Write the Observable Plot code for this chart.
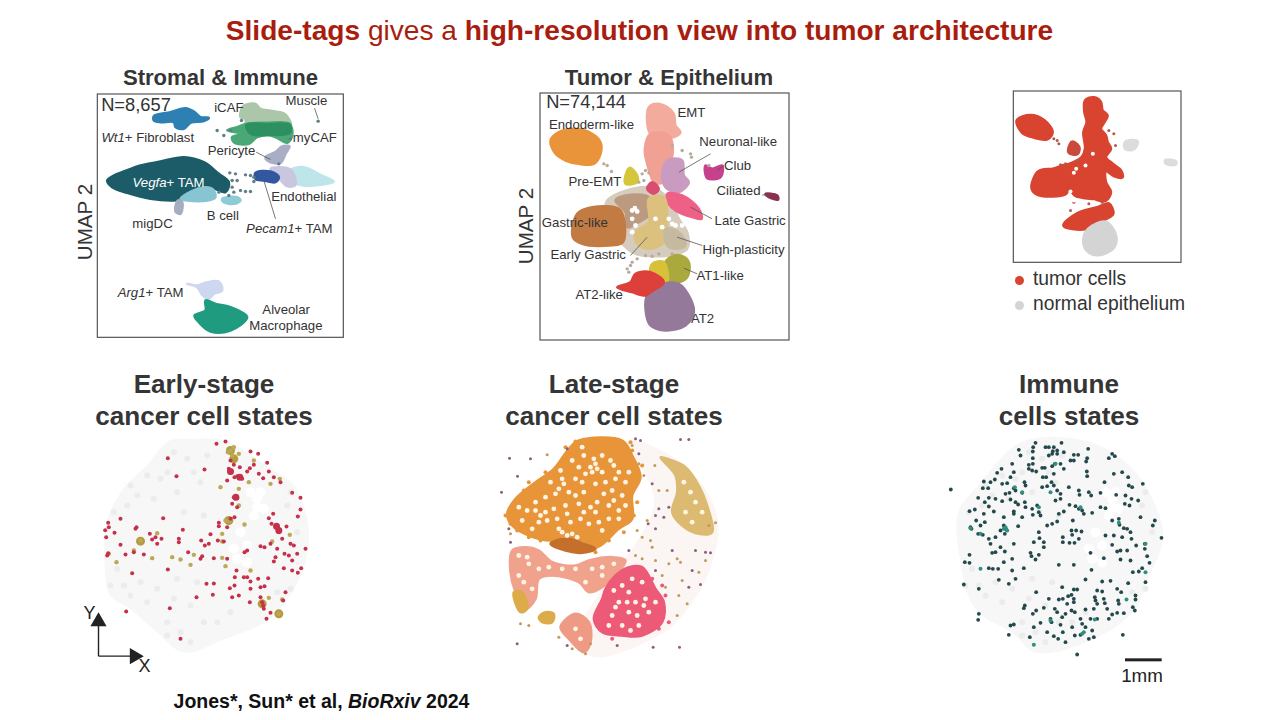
<!DOCTYPE html>
<html><head><meta charset="utf-8">
<script src="https://cdn.jsdelivr.net/npm/d3@7"></script>
<script src="https://cdn.jsdelivr.net/npm/@observablehq/plot@0.6"></script>
<style>
html,body{margin:0;padding:0;background:#fff;width:1280px;height:720px;overflow:hidden;font-family:"Liberation Sans",Arial,sans-serif;}
#page{position:relative;width:1280px;height:720px;}
.h{position:absolute;text-align:center;font-weight:bold;color:#353535;white-space:nowrap;transform:translateX(-50%);}
.p{position:absolute;}
.p svg{display:block;overflow:visible;background:transparent;}
</style></head><body><div id="page">
<div class="h" style="left:639.5px;top:14px;font-size:28.1px;line-height:34px;font-weight:normal;color:#a81d0e"><b>Slide-tags</b> gives a <b>high-resolution view into tumor architecture</b></div>
<div class="h" style="left:220.5px;top:66px;font-size:22.1px;line-height:24px">Stromal &amp; Immune</div>
<div class="h" style="left:669px;top:66px;font-size:22.1px;line-height:24px">Tumor &amp; Epithelium</div>
<div class="h" style="left:204px;top:369px;font-size:26.1px;line-height:31.6px">Early-stage<br>cancer cell states</div>
<div class="h" style="left:614px;top:369px;font-size:26.1px;line-height:31.6px">Late-stage<br>cancer cell states</div>
<div class="h" style="left:1069px;top:369px;font-size:26.1px;line-height:31.6px">Immune<br>cells states</div>
<div class="h" style="left:85px;top:222px;font-size:20.6px;line-height:24px;font-weight:normal;transform:translate(-50%,-50%) rotate(-90deg)">UMAP 2</div>
<div class="h" style="left:526px;top:226px;font-size:20.6px;line-height:24px;font-weight:normal;transform:translate(-50%,-50%) rotate(-90deg)">UMAP 2</div>
<div class="h" style="left:321.5px;top:690px;font-size:19.5px;line-height:22px;color:#111">Jones*, Sun* et al, <i>BioRxiv</i> 2024</div>
<div class="h" style="left:1142px;top:665px;font-size:18.8px;line-height:22px;font-weight:normal;color:#222">1mm</div>
<div id="legend" style="position:absolute;left:1013px;top:266px;font-size:19.3px;color:#333;line-height:25px"></div>
</div>
<script>
// ---------- Stromal & Immune UMAP outlines
const wt1Fibroblast=[[190,92],[240,80],[285,68],[310,78],[330,95],[355,97],[340,107],[300,112],[280,130],[255,125],[250,110],[210,110],[190,105]];
const iCAF=[[458,62],[478,55],[495,55],[510,70],[540,76],[582,85],[600,118],[530,125],[468,122],[464,100],[450,95]];
const myCAF=[[470,115],[530,112],[597,115],[605,150],[590,172],[565,160],[540,150],[500,155],[475,175],[430,170],[425,155],[460,145],[410,135],[440,125]];
const myCAFdark=[[468,118],[530,116],[598,118],[598,142],[535,148],[480,145]];
const pericyte=[[575,183],[597,183],[585,205],[570,232],[535,228],[525,215],[555,200]];
const vegfaTAM=[[50,285],[70,270],[100,258],[150,240],[210,228],[280,215],[340,230],[385,265],[415,290],[405,320],[365,308],[330,320],[300,338],[250,345],[180,340],[110,322],[65,305]];
const bCell=[[270,340],[320,310],[365,310],[375,335],[350,345],[290,345]];
const bCell2=[[395,340],[440,335],[450,345],[430,355],[400,350]];
const migDC=[[262,345],[275,350],[270,385],[255,378]];
const endothelial=[[600,255],[640,245],[690,268],[730,288],[690,298],[640,300],[610,290]];
const endothelialEdge=[[540,250],[600,252],[615,298],[590,302],[560,270]];
const pecam1TAM=[[495,262],[540,258],[565,275],[555,290],[520,285],[495,280]];
const arg1TAM=[[290,595],[320,600],[345,592],[385,588],[395,615],[370,625],[355,640],[335,628],[320,605]];
const alveolar=[[345,645],[375,655],[420,665],[470,695],[420,735],[360,738],[325,710],[312,690],[345,675]];
const stromalStrays=[[683,107],[453,105],[380,135],[420,135],[400,150],[600,160],[565,235],[418,262],[435,265],[465,268],[480,270],[425,285],[440,285],[425,305],[430,320],[450,315],[465,318],[480,318],[490,275],[490,288],[415,330],[385,320]];
// ---------- Tumor & Epithelium UMAP outlines
const endodermLike=[[45,165],[70,140],[120,130],[170,145],[195,170],[195,205],[175,235],[130,235],[90,225],[60,205]];
const preEMT=[[283,247],[305,270],[305,290],[270,295],[270,270]];
const emt=[[340,65],[365,55],[395,65],[415,85],[420,120],[435,140],[415,155],[385,155],[345,145],[335,110]];
const emt2=[[345,145],[400,150],[412,200],[402,235],[392,285],[358,292],[335,235],[328,190]];
const neuronalLike=[[395,225],[440,225],[445,270],[460,290],[430,320],[395,310],[380,280]];
const redPink=[[350,290],[370,310],[355,325],[335,310]];
const lateGastric=[[395,325],[440,330],[490,370],[498,400],[470,395],[420,375],[400,355]];
const club=[[510,240],[530,250],[560,240],[555,275],[515,278]];
const ciliated=[[690,325],[725,330],[728,342],[700,335]];
const tumorHalo=[[215,345],[340,305],[400,340],[430,400],[455,440],[455,490],[400,510],[300,505],[265,480],[215,400]];
const gastricLike=[[125,385],[170,365],[250,370],[265,400],[262,470],[220,480],[140,475],[112,455]];
const gastricMid=[[240,345],[270,330],[340,335],[350,380],[310,410],[275,425],[270,380]];
const earlyGastric=[[340,340],[385,335],[395,400],[385,470],[340,490],[305,475],[300,440],[340,410]];
const highPlasticity=[[390,430],[430,440],[450,480],[420,490],[395,480]];
const at1Like=[[405,515],[435,510],[460,530],[455,575],[425,590],[390,580],[385,540]];
const at1Yellow=[[350,535],[385,530],[395,590],[370,585],[345,565]];
const at2Like=[[300,565],[345,560],[385,590],[345,620],[330,630],[290,620],[245,605],[285,590]];
const at2=[[385,595],[430,595],[465,640],[475,680],[450,720],[390,735],[345,720],[330,670],[335,630]];
const tumorStrays=[[205,235],[215,240],[228,258],[320,265],[330,255],[340,262],[325,285],[310,290],[410,180],[440,195],[465,205],[468,215],[520,240],[285,540],[280,560],[305,520],[330,510],[350,512],[370,505],[410,505],[290,530],[275,550]];
const tumorHoles=[[298,368],[305,378],[290,375],[360,400],[300,420],[290,440],[400,400],[410,415],[420,420],[290,400],[380,425],[440,420]];
// ---------- tumor / normal UMAP outlines
const tumorA=[[35,105],[75,90],[115,105],[140,140],[125,160],[85,155],[50,140]];
const tumorCentral=[[240,45],[265,37],[285,50],[290,75],[305,90],[295,110],[285,130],[300,150],[305,170],[315,190],[300,215],[320,235],[345,255],[350,275],[325,270],[300,255],[300,290],[315,320],[300,345],[265,340],[230,335],[210,330],[190,310],[180,325],[100,328],[80,310],[85,280],[100,258],[145,250],[175,240],[195,235],[230,215],[240,190],[235,140],[245,110],[238,80]];
const tumorTriangle=[[200,170],[220,185],[215,205],[190,200]];
const tumorLow=[[310,355],[322,385],[300,400],[240,430],[175,420],[215,385],[280,365]];
const normalMain=[[250,430],[300,410],[330,450],[325,485],[280,508],[245,495],[235,460]];
const normalBit1=[[360,170],[395,168],[385,190],[360,190]];
const normalBit2=[[480,225],[510,228],[510,236],[482,234]];
const tumorGaps=[[212,250],[205,262],[262,205],[240,240],[195,318],[265,350],[205,345],[225,360],[150,235]];
const tumorFringe=[[145,160],[155,165],[160,175],[325,145],[330,180],[310,135],[205,350],[195,375],[250,355],[290,350],[180,235],[215,225],[165,238]];
// ---------- Early-stage spots
const earlyRed=[[405,18],[378,25],[480,48],[503,55],[530,82],[505,115],[518,128],[490,88],[478,98],[470,108],[448,95],[420,75],[430,88],[415,100],[420,112],[440,122],[455,130],[410,135],[432,125],[430,185],[440,188],[425,205],[440,215],[420,250],[432,245],[385,262],[385,272],[410,275],[360,296],[382,315],[400,318],[343,330],[332,315],[355,325],[265,310],[265,320],[293,350],[335,362],[330,370],[370,368],[410,370],[462,350],[470,345],[277,283],[218,248],[258,122],[232,68],[342,102],[138,275],[135,280],[90,250],[53,262],[55,275],[44,284],[72,292],[47,305],[90,328],[105,357],[50,360],[53,353],[130,350],[160,357],[178,295],[185,312],[195,305],[213,310],[200,325],[232,402],[125,413],[348,445],[370,444],[367,478],[318,485],[238,518],[107,528],[270,610],[433,425],[438,405],[460,425],[470,425],[480,438],[503,430],[480,460],[445,480],[425,485],[418,458],[432,450],[510,455],[522,452],[478,500],[510,485],[515,500],[518,510],[520,520],[540,532],[528,550],[533,428],[580,398],[605,405],[632,398],[622,412],[585,470],[578,495],[548,235],[535,248],[622,243],[630,222],[630,187],[605,172],[570,140],[550,125],[535,108],[543,265],[560,275],[565,290],[575,310],[588,273],[600,325],[610,330],[645,340],[620,355],[595,360],[605,375],[582,355],[560,340],[555,365],[550,378],[510,332],[522,335],[540,325]];
const earlyOlive=[[420,45],[430,35],[425,60],[445,55],[490,75],[475,140],[540,145],[568,130],[445,160],[445,210],[405,255],[395,295],[395,318],[150,315],[200,293],[55,355],[270,372],[405,392],[480,405],[535,487],[565,535],[575,492],[545,318],[598,298],[390,155],[462,267],[395,367],[310,358],[185,368],[245,365],[300,388],[78,380],[130,345],[412,50],[418,255]];
const earlyClump=[[420,45],[430,70],[415,255],[150,317],[515,505],[565,535]];
const earlyRedClump=[[436,185],[565,285],[420,108],[448,125],[558,272]];
// ---------- Late-stage regions and spots
const tissueLate=[[400,20],[500,50],[610,140],[665,260],[640,400],[580,510],[500,590],[290,660],[250,600],[480,200]];
const orangeState=[[35,235],[60,190],[120,140],[175,100],[220,40],[250,15],[380,15],[410,60],[435,125],[410,180],[410,250],[370,280],[305,335],[270,320],[210,300],[170,315],[100,300],[50,270]];
const brownState=[[165,325],[215,308],[265,325],[300,340],[260,352],[210,345]];
const salmonState=[[50,345],[90,335],[130,345],[170,380],[240,390],[280,375],[350,365],[390,375],[360,420],[320,455],[280,470],[250,440],[170,420],[130,430],[120,490],[90,520],[60,470],[45,410]];
const pinkState=[[360,420],[400,395],[440,395],[480,460],[505,500],[500,560],[440,600],[380,600],[320,590],[295,550],[320,490],[330,460]];
const salmonLow=[[195,575],[240,535],[280,560],[285,620],[265,650],[220,610]];
const tanState=[[495,65],[530,75],[570,95],[610,150],[635,210],[650,290],[610,295],[560,270],[530,230],[545,170],[540,120]];
const goldA=[[130,545],[150,530],[175,535],[170,560],[140,560]];
const goldB=[[55,470],[80,470],[95,520],[75,530]];
const lateCream=[[300,85],[285,95],[305,100],[240,130],[260,140],[190,160],[165,140],[200,130],[330,140],[360,130],[390,140],[350,165],[325,175],[305,200],[285,215],[340,210],[370,225],[215,235],[210,210],[175,220],[120,200],[95,225],[155,255],[130,260],[80,255],[110,280],[280,265],[255,250],[310,260],[340,250],[215,300],[230,295],[245,305],[200,290],[265,170],[240,180],[220,170],[150,185],[380,180],[390,210],[345,75],[260,35],[265,60],[230,75],[195,105],[355,90],[400,110],[150,230],[250,205],[300,145],[290,110],[295,70],[320,60],[180,175],[205,145],[120,225],[70,215],[185,250],[225,260],[355,195],[370,110],[320,110],[250,95],[270,115],[300,230],[320,285],[265,230],[190,280],[135,240],[370,250],[380,450],[400,470],[370,500],[420,500],[450,490],[460,530],[400,530],[350,540],[430,570],[380,570],[340,570],[480,500],[410,430],[440,440],[360,515],[395,500],[425,540],[355,465],[445,510],[405,585],[70,360],[100,385],[130,400],[85,440],[110,460],[200,400],[240,400],[290,400],[320,420],[270,440],[160,395],[70,420],[95,365],[355,385],[320,395],[585,170],[600,200],[570,230],[590,260],[565,140],[620,230],[240,580],[255,610]];
const lateOrangeEdge=[[30,240],[45,265],[65,285],[100,305],[135,315],[100,140],[85,165],[150,110],[210,35],[240,18],[410,45],[440,90],[425,200],[415,240],[385,290],[340,315],[300,350],[405,20]];
const latePinkEdge=[[510,480],[520,560],[490,580],[350,610],[305,570],[500,450],[470,430]];
const lateMauve=[[42,68],[105,70],[66,122],[18,170],[215,40],[555,12],[580,12],[65,625],[215,630],[365,630],[473,635],[552,635],[40,280],[45,320],[430,55],[470,145],[490,220],[505,245],[480,240],[458,265],[480,280],[400,345],[480,405],[530,345],[590,405],[600,345],[630,350],[645,352],[615,447],[580,455],[520,215],[420,10],[435,15]];
const lateTan=[[155,58],[478,90],[285,625],[45,295],[410,30],[430,85],[445,120],[490,165],[515,165],[455,255],[425,285],[440,305],[465,315],[420,360],[440,370],[500,420],[545,370],[520,385],[555,380],[630,375],[610,410],[560,435],[510,455],[550,480],[575,505],[545,540],[470,335],[480,375],[660,262],[640,270],[100,570],[75,565],[190,605],[230,640],[270,655]];
// ---------- Immune spots
const immuneDark=[[270,22],[348,22],[263,35],[262,48],[300,35],[310,35],[325,35],[428,40],[220,43],[322,47],[335,45],[335,55],[355,50],[225,60],[262,68],[310,60],[320,55],[385,58],[398,58],[425,68],[490,68],[500,55],[508,62],[200,85],[250,88],[262,85],[328,85],[345,85],[375,75],[385,75],[422,78],[260,105],[272,108],[290,97],[298,97],[320,92],[325,115],[355,100],[250,100],[168,100],[155,112],[205,110],[195,125],[424,108],[425,122],[505,115],[530,110],[115,138],[135,140],[148,132],[170,145],[185,143],[237,140],[240,150],[292,125],[302,125],[318,140],[325,150],[305,152],[290,155],[370,155],[477,140],[548,125],[592,145],[550,150],[560,155],[112,158],[128,158],[205,158],[210,165],[230,172],[192,172],[180,175],[335,165],[345,175],[400,165],[402,178],[430,170],[437,180],[465,172],[512,178],[540,180],[558,190],[578,195],[98,187],[130,187],[150,190],[170,197],[195,192],[210,200],[218,207],[238,200],[240,215],[275,210],[330,195],[345,190],[372,208],[390,212],[400,220],[410,225],[415,235],[440,232],[465,215],[480,218],[538,205],[552,210],[130,213],[118,200],[145,228],[88,222],[72,227],[175,245],[205,228],[205,235],[230,245],[260,220],[262,238],[280,230],[285,240],[355,228],[340,235],[382,255],[115,235],[118,260],[92,255],[105,270],[75,275],[78,280],[175,270],[182,282],[165,285],[218,272],[305,270],[320,265],[335,258],[500,255],[520,250],[522,268],[535,278],[545,280],[585,245],[628,255],[622,270],[505,300],[480,300],[98,295],[112,298],[130,310],[150,305],[178,295],[280,290],[282,308],[378,285],[392,285],[408,288],[380,298],[352,305],[400,310],[352,320],[372,322],[387,322],[205,325],[265,320],[295,320],[295,335],[530,305],[555,290],[558,310],[135,325],[165,335],[140,352],[150,350],[178,348],[500,328],[572,330],[598,325],[598,340],[605,362],[515,348],[525,345],[545,345],[255,352],[258,362],[270,372],[280,358],[72,358],[58,380],[72,382],[475,368],[525,372],[555,375],[612,382],[175,380],[200,370],[435,352],[130,398],[142,400],[158,400],[235,398],[200,405],[340,388],[385,388],[438,403],[562,410],[580,408],[590,398],[160,433],[210,430],[190,445],[55,447],[100,460],[420,432],[470,438],[495,436],[548,443],[600,440],[272,470],[350,455],[385,462],[395,462],[378,478],[455,465],[470,468],[515,460],[527,470],[570,480],[570,492],[368,482],[352,490],[340,492],[310,490],[385,490],[385,500],[365,505],[448,485],[450,495],[455,505],[475,490],[478,503],[518,495],[520,505],[562,515],[568,525],[238,510],[235,518],[295,517],[272,525],[262,535],[328,520],[335,530],[360,535],[378,525],[388,530],[420,522],[445,520],[485,520],[515,532],[500,537],[490,550],[535,533],[100,535],[98,553],[315,550],[318,560],[350,545],[405,550],[435,550],[455,550],[410,565],[285,562],[205,567],[195,570],[265,575],[345,568],[380,575],[420,575],[190,598],[253,605],[305,590],[325,602],[338,610],[352,590],[388,600],[405,598],[440,585],[445,605],[430,610],[532,598],[360,620],[395,657],[16,162],[648,307]];
const immuneTeal=[[175,280],[180,275],[185,285],[75,278],[105,400],[265,628],[410,595],[415,590],[543,492],[600,325],[600,410],[330,85],[208,155],[280,215],[520,262],[405,215],[230,170],[315,170],[105,295],[448,552],[315,555]];
// ---------- shared tissue outlines and faint cell traces
const tissueEarly=[[235,18],[300,12],[400,15],[450,40],[540,100],[610,150],[650,260],[650,350],[625,430],[575,510],[520,560],[400,610],[280,650],[200,590],[120,520],[60,480],[45,400],[50,260],[100,160],[170,90]];
const tissueImmune=[[230,20],[430,20],[560,100],[640,240],[650,320],[610,420],[560,530],[420,620],[270,650],[200,590],[90,520],[45,370],[40,230],[100,150]];
const tissueGaps=[[500,190],[480,170],[520,220],[490,240],[470,330],[450,290],[430,340],[510,170],[500,215],[440,370],[470,380]];
const tissueTraces=[[120,150],[170,120],[230,110],[290,70],[350,60],[330,140],[260,170],[190,190],[110,210],[70,230],[280,230],[340,240],[150,440],[100,450],[80,400],[200,460],[260,430],[300,510],[340,560],[270,590],[230,560],[380,560],[170,500],[590,210],[620,290],[600,460],[560,470],[420,530],[140,180],[210,130],[310,110],[250,50],[60,450],[120,480],[320,440],[250,490],[300,620],[230,600],[600,170]];
// ---------- labels
const stromalLabels=[["iCAF",415,68],["Muscle",648,47],["myCAF",673,157],["Pericyte",423,197],["Endothelial",640,333],["B cell",397,390],["migDC",186,416],["Alveolar",587,673],["Macrophage",586,722]];
const stromalItalic=[["Wt1",103,157,"#333"],["Vegfa",228,293,"#fff"],["Pecam1",612,430,"#333"],["Arg1",165,622,"#333"]];
const stromalPlus=[["+ Fibroblast",103,157,"#333"],["+ TAM",228,293,"#fff"],["+ TAM",612,430,"#333"],["+ TAM",165,622,"#333"]];
const tumorLabels=[["EMT",468,82],["Endoderm-like",168,117],["Neuronal-like",608,168],["Club",606,241],["Pre-EMT",178,288],["Ciliated",609,315],["Gastric-like",118,412],["Late Gastric",644,405],["High-plasticity",624,493],["Early Gastric",158,507],["AT1-like",554,571],["AT2-like",191,628],["AT2",501,700]];
const stromalLeaders=[[672,68,683,100],[497,200,540,222],[520,285,555,400]];
const tumorLeaders=[[430,260,525,205],[465,365,530,400],[425,455,500,480],[335,455,285,510],[545,255,565,240],[445,548,485,565],[680,328,700,330]];

const pts=a=>a.map(([x,y])=>({x,y}));
const regions=list=>list.flatMap(([name,poly])=>poly.map(([x,y])=>({name,x,y})));
const labelRows=a=>a.map(([t,x,y,c])=>({t,x,y,c}));
const linkRows=a=>a.map(([x1,y1,x2,y2])=>({x1,y1,x2,y2}));
const FONT='"Liberation Sans",Arial,sans-serif';

function panel(left,top,xd,yd,marks,color){
  const fig=Plot.plot({width:(xd[1]-xd[0])/3,height:(yd[1]-yd[0])/3,
    margin:0,marginTop:0,marginRight:0,marginBottom:0,marginLeft:0,
    x:{domain:xd,axis:null},y:{domain:[yd[1],yd[0]],axis:null},
    color:color,style:{background:"transparent",fontFamily:FONT,overflow:"visible"},marks});
  const d=document.createElement("div");d.className="p";d.style.left=left+"px";d.style.top=top+"px";
  d.appendChild(fig);document.getElementById("page").appendChild(d);
}
const blobs=(list,strokeWidth=2.5)=>Plot.line(regions(list),{x:"x",y:"y",z:"name",fill:"name",stroke:"name",strokeWidth,strokeLinejoin:"round",curve:"catmull-rom-closed"});
const colorOf=list=>({domain:list.map(d=>d[0]),range:list.map(d=>d[2])});
const frame=(x1,x2,y1,y2,c="#555")=>Plot.rect([{x1,x2,y1,y2}],{x1:"x1",x2:"x2",y1:"y1",y2:"y2",fill:"none",stroke:c,strokeWidth:1.2});
const txt=(rows,o={})=>Plot.text(labelRows(rows),{x:"x",y:"y",text:"t",fontSize:13.2,fill:"#333",...o});
const leaders=rows=>Plot.link(linkRows(rows),{x1:"x1",y1:"y1",x2:"x2",y2:"y2",stroke:"#555",strokeWidth:0.8});
const spots=(a,fill,r,o={})=>Plot.dot(pts(a),{x:"x",y:"y",r,fill,stroke:"none",...o});

// --- Stromal & Immune
const stromalRegions=[["Wt1",wt1Fibroblast,"#2e7fb2"],["iCAF",iCAF,"#abc6a8"],["myCAF",myCAF,"#4aa877"],["myCAFd",myCAFdark,"#2c9060"],["Pericyte",pericyte,"#a9aec6"],["Vegfa",vegfaTAM,"#1c5c68"],["Bcell",bCell,"#88c5d3"],["Bcell2",bCell2,"#8fcbd6"],["migDC",migDC,"#a4aec0"],["Endo",endothelial,"#bde5ea"],["EndoE",endothelialEdge,"#c9c6e0"],["Pecam",pecam1TAM,"#33579f"],["Arg1",arg1TAM,"#cdd7ef"],["Alveolar",alveolar,"#1f9b80"]];
panel(90,85,[0,780],[0,780],[
  blobs(stromalRegions),
  spots(stromalStrays,"#5f7f86",1.7),
  leaders(stromalLeaders),
  frame(22,760,27,757),
  txt(stromalLabels),
  txt(stromalItalic,{textAnchor:"end",fontStyle:"italic",fill:"c"}),
  txt(stromalPlus,{textAnchor:"start",fill:"c"}),
  Plot.text([{t:"N=8,657",x:32,y:58}],{x:"x",y:"y",text:"t",fontSize:18.3,textAnchor:"start",fill:"#333"})
],colorOf(stromalRegions));

// --- Tumor & Epithelium
const tumorRegions=[["Halo",tumorHalo,"#d6ccbe"],["Endoderm",endodermLike,"#e9933b"],["PreEMT",preEMT,"#d5c63a"],["EMT",emt,"#f3ab9e"],["EMT2",emt2,"#f1a094"],["Neuronal",neuronalLike,"#c99bc1"],["RedPink",redPink,"#da4d70"],["LateG",lateGastric,"#ee6086"],["Club",club,"#c7408c"],["Ciliated",ciliated,"#8b3050"],["GastricMid",gastricMid,"#bb9a80"],["Gastric",gastricLike,"#c27b43"],["Early",earlyGastric,"#dcc17e"],["High",highPlasticity,"#c5ba9f"],["AT1",at1Like,"#a9a93d"],["AT1y",at1Yellow,"#d9c039"],["AT2",at2,"#95799b"],["AT2L",at2Like,"#dd3f3b"]];
panel(535,85,[0,780],[0,780],[
  blobs(tumorRegions),
  spots(tumorStrays,"#b9ab9c",1.7),
  spots(tumorHoles,"#ffffff",2.4),
  leaders(tumorLeaders),
  frame(15,762,24,765),
  txt(tumorLabels),
  Plot.text([{t:"N=74,144",x:32,y:50}],{x:"x",y:"y",text:"t",fontSize:18.3,textAnchor:"start",fill:"#333"})
],colorOf(tumorRegions));

// --- tumor / normal
const stateRegions=[["a",tumorA,"#d8442f"],["b",tumorCentral,"#d8442f"],["c",tumorTriangle,"#cc4a3c"],["d",tumorLow,"#d8442f"],["n",normalMain,"#d4d4d4"],["n1",normalBit1,"#dcdcdc"],["n2",normalBit2,"#dcdcdc"]];
panel(1005,85,[0,555],[0,555],[
  blobs(stateRegions,3.5),
  spots(tumorFringe,"#b5574f",1.5),
  spots(tumorGaps,"#ffffff",2),
  frame(25,528,18,532)
],colorOf(stateRegions));

// --- Early stage
const earlyTissue=[["t",tissueEarly,"#f7f7f7"]];
panel(80,430,[-30,720],[-15,720],[
  blobs(earlyTissue,1),
  spots(tissueGaps,"#ffffff",5),
  spots(tissueTraces,"#ececec",3),
  spots(earlyClump,"#b59b3e",4.5),
  spots(earlyRedClump,"#c5304a",3.5),
  spots(earlyOlive,"#bba958",2.2),
  spots(earlyRed,"#c5304a",2),
  Plot.link([{x1:24,y1:662,x2:24,y2:555},{x1:24,y1:662,x2:135,y2:662}],{x1:"x1",y1:"y1",x2:"x2",y2:"y2",stroke:"#222",strokeWidth:1.4}),
  Plot.dot([{x:24,y:558,a:0},{x:132,y:662,a:90}],{x:"x",y:"y",rotate:"a",symbol:"triangle",r:6,fill:"#222",stroke:"none"}),
  Plot.text([{t:"Y",x:-3,y:534},{t:"X",x:162,y:692}],{x:"x",y:"y",text:"t",fontSize:18,fill:"#222"})
],colorOf(earlyTissue));

// --- Late stage
const lateRegions=[["t",tissueLate,"#fbf6f4"],["o",orangeState,"#e8953a"],["b",brownState,"#c4702a"],["s",salmonState,"#f0a28d"],["p",pinkState,"#ec5a78"],["l",salmonLow,"#ee9a84"],["n",tanState,"#dcba72"],["g",goldA,"#dcab4a"],["h",goldB,"#dcab4a"]];
panel(495,435,[0,720],[0,720],[
  blobs(lateRegions),
  spots(lateCream,"#fff3e2",2.4),
  spots(lateOrangeEdge,"#e8953a",2),
  spots(latePinkEdge,"#ec5a78",2),
  spots(lateMauve,"#8c5f7d",1.5),
  spots(lateTan,"#c09a58",1.5)
],colorOf(lateRegions));

// --- Immune
const immuneTissue=[["t",tissueImmune,"#f7f7f7"]];
panel(945,435,[0,720],[0,720],[
  blobs(immuneTissue,1),
  spots(tissueGaps,"#ffffff",5),
  spots(tissueTraces,"#ececec",3),
  spots(immuneDark,"#24494c",1.9),
  spots(immuneTeal,"#2f8f80",2),
  Plot.rect([{x1:540,x2:650,y1:670,y2:679}],{x1:"x1",x2:"x2",y1:"y1",y2:"y2",fill:"#222"})
],colorOf(immuneTissue));

// --- legend
const legendKeys=["tumor cells","normal epithelium"];
const legendColors=["#d8442f","#d4d4d4"];
document.getElementById("legend").innerHTML=legendKeys.map((k,i)=>`<div style="height:25px;white-space:nowrap"><span style="display:inline-block;width:9.5px;height:9.5px;border-radius:50%;background:${legendColors[i]};margin-left:1.5px;margin-right:9px"></span>${k}</div>`).join("");
</script>
</body></html>
